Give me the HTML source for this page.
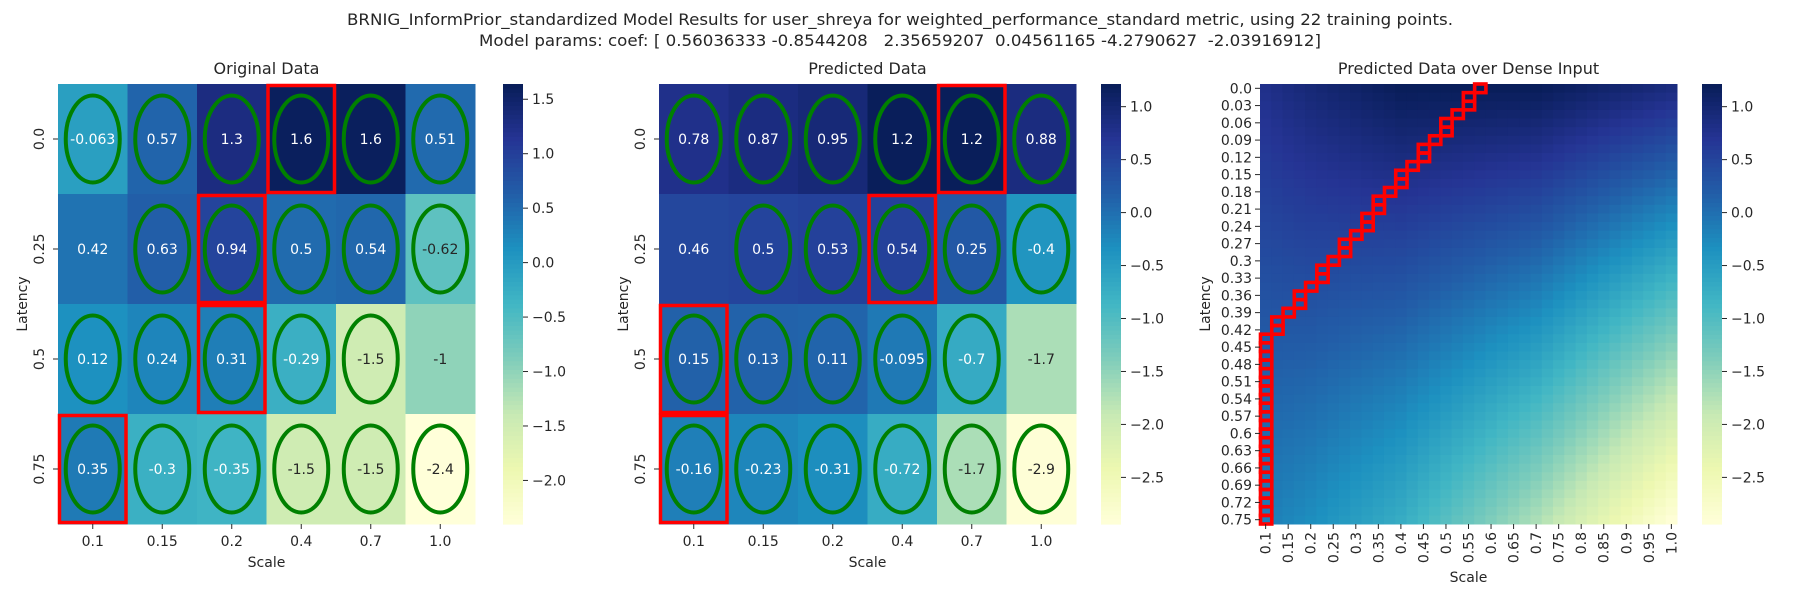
<!DOCTYPE html>
<html><head><meta charset="utf-8"><style>
body{margin:0;background:#fff;}
svg text{font-family:"DejaVu Sans","Liberation Sans",sans-serif;fill:#262626;}
</style></head><body>
<svg id="fig" width="1800" height="600" viewBox="0 0 1800 600" xmlns="http://www.w3.org/2000/svg">
<rect width="1800" height="600" fill="#fff"/>
<text x="900" y="25" font-size="16" text-anchor="middle" textLength="1106" lengthAdjust="spacingAndGlyphs">BRNIG_InformPrior_standardized Model Results for user_shreya for weighted_performance_standard metric, using 22 training points.</text>
<text x="900" y="46" font-size="16" text-anchor="middle" textLength="842" lengthAdjust="spacingAndGlyphs" style="white-space:pre">Model params: coef: [ 0.56036333 -0.8544208   2.35659207  0.04561165 -4.2790627  -2.03916912]</text>
<g id="root"></g>
</svg>
<script>
const scales = ["0.1","0.15","0.2","0.4","0.7","1.0"];
const scaleVals = [0.1,0.15,0.2,0.4,0.7,1.0];
const latencies = ["0.0","0.25","0.5","0.75"];
const latencyVals = [0,0.25,0.5,0.75];
const originalValues = [
  [-0.063,0.57,1.3,1.6,1.6,0.51],
  [0.42,0.63,0.94,0.5,0.54,-0.62],
  [0.12,0.24,0.31,-0.29,-1.5,-1],
  [0.35,-0.3,-0.35,-1.5,-1.5,-2.4]];
const originalLabels = [
  ["-0.063","0.57","1.3","1.6","1.6","0.51"],
  ["0.42","0.63","0.94","0.5","0.54","-0.62"],
  ["0.12","0.24","0.31","-0.29","-1.5","-1"],
  ["0.35","-0.3","-0.35","-1.5","-1.5","-2.4"]];
const predictedValues = [
  [0.78,0.87,0.95,1.2,1.2,0.88],
  [0.46,0.5,0.53,0.54,0.25,-0.4],
  [0.15,0.13,0.11,-0.095,-0.7,-1.7],
  [-0.16,-0.23,-0.31,-0.72,-1.7,-2.9]];
const predictedLabels = [
  ["0.78","0.87","0.95","1.2","1.2","0.88"],
  ["0.46","0.5","0.53","0.54","0.25","-0.4"],
  ["0.15","0.13","0.11","-0.095","-0.7","-1.7"],
  ["-0.16","-0.23","-0.31","-0.72","-1.7","-2.9"]];
const trainingMask = [
  [1,1,1,1,1,1],
  [0,1,1,1,1,1],
  [1,1,1,1,1,0],
  [1,1,1,1,1,1]];
const originalBest = [[0,3],[1,2],[2,2],[3,0]];
const predictedBest = [[0,4],[1,3],[2,0],[3,0]];
const originalTicks = [1.5,1.0,0.5,0.0,-0.5,-1.0,-1.5,-2.0];
const predictedTicks = [1.0,0.5,0.0,-0.5,-1.0,-1.5,-2.0,-2.5];
const denseLatencyTicks = ["0.0","0.03","0.06","0.09","0.12","0.15","0.18","0.21","0.24","0.27","0.3","0.33","0.36","0.39","0.42","0.45","0.48","0.51","0.54","0.57","0.6","0.63","0.66","0.69","0.72","0.75"];
const denseScaleTicks = ["0.1","0.15","0.2","0.25","0.3","0.35","0.4","0.45","0.5","0.55","0.6","0.65","0.7","0.75","0.8","0.85","0.9","0.95","1.0"];
const denseArgmaxCol = [19,18,18,17,16,16,15,14,14,13,12,12,11,10,10,9,9,8,7,7,6,5,5,4,3,3,2,1,1,0,0,0,0,0,0,0,0,0,0,0,0,0,0,0,0,0,0,0,0,0,0];

const NS="http://www.w3.org/2000/svg";
const root=document.getElementById('root');
function el(tag,attrs,parent,txt){const e=document.createElementNS(NS,tag);for(const k in attrs)e.setAttribute(k,attrs[k]);if(txt!==undefined)e.textContent=txt;(parent||root).appendChild(e);return e;}
const stops=["#ffffd9","#edf8b1","#c7e9b4","#7fcdbb","#41b6c4","#1d91c0","#225ea8","#253494","#081d58"].map(h=>[parseInt(h.substr(1,2),16),parseInt(h.substr(3,2),16),parseInt(h.substr(5,2),16)]);
function cmap(t){t=Math.max(0,Math.min(1,t));const p=t*(stops.length-1);const i=Math.min(stops.length-2,Math.floor(p));const f=p-i;return stops[i].map((c,k)=>Math.round(c+(stops[i+1][k]-c)*f));}
function rgb(c){return `rgb(${c[0]},${c[1]},${c[2]})`;}
function lum(c){const l=c.map(v=>{v/=255;return v<=0.03928?v/12.92:Math.pow((v+0.055)/1.055,2.4);});return 0.2126*l[0]+0.7152*l[1]+0.0722*l[2];}

const TOP=84,H=440,W=417;
function colorbar(x,vmin,vmax,ticks,name){
  const g=el('g',{},root);
  
  
  const n=100;
  for(let i=0;i<n;i++){const v=vmax-(vmax-vmin)*(i+0.5)/n;el('rect',{x:x,y:TOP+H*i/n,width:20,height:H/n+0.6,fill:rgb(cmap((v-vmin)/(vmax-vmin)))},g);}
  ticks.forEach(t=>{const y=TOP+(vmax-t)/(vmax-vmin)*H;el('line',{x1:x+20,x2:x+25,y1:y,y2:y,stroke:'#262626','stroke-width':1},g);
    const tx=el('text',{x:x+29,y:y+5,'font-size':14},g,(t<0?'\u2212':'')+Math.abs(t).toFixed(1));
    
    });
}
function smallHeatmap(x0,title,vals,labels,best,vmin,vmax,name){
  const g=el('g',{},root);
  
  
  const cw=W/scales.length,rh=H/latencies.length;
  vals.forEach((row,r)=>row.forEach((v,c)=>{
    const col=cmap((v-vmin)/(vmax-vmin));
    const cell=el('rect',{x:x0+c*cw,y:TOP+r*rh,width:cw+0.5,height:rh+0.5,fill:rgb(col)},g);
    
    
  }));
  vals.forEach((row,r)=>row.forEach((v,c)=>{
    const cx=x0+(c+0.5)*cw,cy=TOP+(r+0.5)*rh;
    if(trainingMask[r][c]){const e=el('ellipse',{cx:cx,cy:cy,rx:27,ry:43.5,fill:'none',stroke:'#008000','stroke-width':4},g);
      
      }
    const col=cmap((v-vmin)/(vmax-vmin));
    const t=el('text',{x:cx,y:cy+5,'font-size':14,'text-anchor':'middle',style:'fill:'+(lum(col)>0.408?'#262626':'#fff')},g,labels[r][c]);
    
    
  }));
  best.forEach(([r,c])=>{const b=el('rect',{x:x0+c*cw+1.5,y:TOP+r*rh+1.5,width:cw-3,height:rh-3,fill:'none',stroke:'#ff0000','stroke-width':3.5},g);
    
    });
  scales.forEach((s,c)=>{const x=x0+(c+0.5)*cw;el('line',{x1:x,x2:x,y1:TOP+H,y2:TOP+H+5,stroke:'#262626'},g);
    const t=el('text',{x:x,y:TOP+H+22,'font-size':14,'text-anchor':'middle'},g,s);
    
    });
  latencies.forEach((s,r)=>{const y=TOP+(r+0.5)*rh;el('line',{x1:x0-5,x2:x0,y1:y,y2:y,stroke:'#262626'},g);
    const t=el('text',{x:0,y:0,'font-size':14,'text-anchor':'middle',transform:`translate(${x0-14},${y}) rotate(-90)`},g,s);
    
    });
  const tt=el('text',{x:x0+W/2,y:TOP-10,'font-size':16,'text-anchor':'middle'},g,title);
  
  
  const xl=el('text',{x:x0+W/2,y:TOP+H+43,'font-size':14,'text-anchor':'middle'},g,'Scale');
  
  
  const yl=el('text',{x:0,y:0,'font-size':14,'text-anchor':'middle',transform:`translate(${x0-31},${TOP+H/2}) rotate(-90)`},g,'Latency');
  
  
}
smallHeatmap(58,'Original Data',originalValues,originalLabels,originalBest,-2.40,1.64,'original-data-heatmap');
colorbar(503,-2.40,1.64,originalTicks,'original-colorbar');
smallHeatmap(659,'Predicted Data',predictedValues,predictedLabels,predictedBest,-2.94,1.214,'predicted-data-heatmap');
colorbar(1101,-2.94,1.214,predictedTicks,'predicted-colorbar');

(function(){
  const x0=1260,nr=51,nc=37,cw=W/nc,rh=H/nr,vmin=-2.94,vmax=1.214;
  const g=el('g',{},root);
  
  
  function interp(arr,v){let i=0;while(i<arr.length-2&&v>arr[i+1])i++;return [i,(v-arr[i])/(arr[i+1]-arr[i])];}
  function val(lat,sc){const [i,fi]=interp(latencyVals,lat),[j,fj]=interp(scaleVals,sc);
    const a=predictedValues[i][j],b=predictedValues[i][j+1],c=predictedValues[i+1][j],d=predictedValues[i+1][j+1];
    return (a*(1-fj)+b*fj)*(1-fi)+(c*(1-fj)+d*fj)*fi;}
  for(let r=0;r<nr;r++)for(let c=0;c<nc;c++){
    const v=val(0.75*r/(nr-1),0.1+0.9*c/(nc-1));
    el('rect',{x:x0+c*cw,y:TOP+r*rh,width:cw+0.5,height:rh+0.5,fill:rgb(cmap((v-vmin)/(vmax-vmin)))},g);
  }
  denseArgmaxCol.forEach((c,r)=>{const b=el('rect',{x:x0+c*cw+0.5,y:TOP+r*rh,width:cw,height:rh,fill:'none',stroke:'#ff0000','stroke-width':3.6},g);
    
    });
  denseLatencyTicks.forEach((s,k)=>{const y=TOP+(2*k+0.5)*rh;el('line',{x1:x0-5,x2:x0,y1:y,y2:y,stroke:'#262626'},g);
    const t=el('text',{x:x0-8,y:y+5,'font-size':14,'text-anchor':'end'},g,s);
    
    });
  denseScaleTicks.forEach((s,k)=>{const x=x0+(2*k+0.5)*cw;el('line',{x1:x,x2:x,y1:TOP+H,y2:TOP+H+5,stroke:'#262626'},g);
    const t=el('text',{x:0,y:0,'font-size':14,'text-anchor':'end',transform:`translate(${x+5},${TOP+H+8}) rotate(-90)`},g,s);
    
    });
  const tt=el('text',{x:x0+W/2,y:TOP-10,'font-size':16,'text-anchor':'middle'},g,'Predicted Data over Dense Input');
  
  
  const xl=el('text',{x:x0+W/2,y:582,'font-size':14,'text-anchor':'middle'},g,'Scale');
  
  
  const yl=el('text',{x:0,y:0,'font-size':14,'text-anchor':'middle',transform:`translate(${x0-50},${TOP+H/2}) rotate(-90)`},g,'Latency');
  
  
})();
colorbar(1702,-2.94,1.214,predictedTicks,'dense-colorbar');
</script>
</body></html>
